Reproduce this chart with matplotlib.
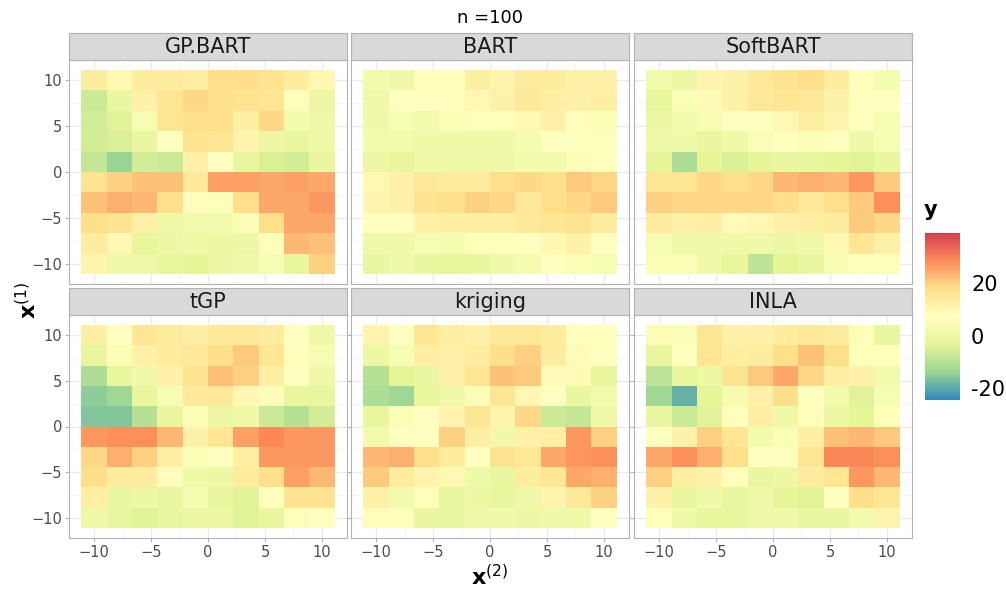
import numpy as np
import matplotlib
matplotlib.use("Agg")
import matplotlib.pyplot as plt
from matplotlib.colors import LinearSegmentedColormap, Normalize
from matplotlib.cm import ScalarMappable

# grid of tile centres (x^(2) across, x^(1) down); rows listed top (x1=10) to bottom (x1=-10)
x2 = np.linspace(-10, 10, 10)
x1 = np.linspace(10, -10, 10)
methods = ["GP.BART", "BART", "SoftBART", "tGP", "kriging", "INLA"]

gp_bart = [[14, 10, 14, 14, 13, 18, 18, 17, 14, 10],
           [-7, -1, 12, 16, 19, 18, 17, 16, 8, 0],
           [-6, -4, 4, 16, 18, 18, 13, 19, 2, 1],
           [-6, -5, -1, 7, 17, 16, 11, 0, -2, 1],
           [-8, -14, -6, -7, 12, 7, -2, -5, -6, -1],
           [17, 20, 22, 22, 15, 26, 26, 25, 26, 25],
           [22, 24, 23, 18, 8, 6, 18, 25, 25, 27],
           [18, 17, 12, 1, 2, 2, 5, 18, 25, 25],
           [14, 10, -2, 0, 1, 0, 0, 6, 23, 22],
           [11, 1, 1, -2, -3, 0, 1, 4, -2, 20]]
bart = [[2, 1, 8, 8, 13, 11, 14, 14, 12, 12],
        [1, 7, 7, 8, 10, 12, 15, 13, 12, 13],
        [1, 4, 2, 5, 6, 6, 10, 12, 8, 5],
        [2, 2, 1, 1, 1, 1, 3, 7, 7, 6],
        [0, -2, 1, 1, 1, 1, 2, 2, 5, 6],
        [10, 12, 15, 14, 14, 18, 19, 18, 21, 19],
        [11, 12, 17, 18, 20, 19, 15, 18, 19, 21],
        [7, 7, 12, 13, 13, 13, 15, 16, 17, 14],
        [1, 1, 4, 3, 6, 6, 7, 10, 12, 7],
        [-1, 1, -1, -2, -1, 1, 3, 7, 5, 4]]
softbart = [[2, 0, 11, 12, 15, 17, 18, 14, 7, 3],
            [-2, 5, 9, 12, 15, 16, 15, 12, 7, 7],
            [0, 2, 4, 7, 7, 10, 13, 11, 7, 4],
            [1, 1, -1, 1, 5, 7, 5, 7, 1, 4],
            [-3, -11, -3, -5, -3, -1, -1, -3, -4, -1],
            [16, 16, 19, 18, 19, 23, 24, 23, 27, 21],
            [20, 19, 19, 19, 19, 18, 15, 18, 21, 28],
            [14, 12, 13, 9, 10, 12, 13, 14, 21, 19],
            [4, 1, 1, 1, 1, 0, 1, 10, 16, 12],
            [5, 5, 1, -2, -9, -3, -1, 4, 6, 6]]
tgp = [[13, 7, 16, 14, 13, 15, 15, 14, 7, 1],
       [-2, 5, 12, 14, 15, 18, 21, 16, 8, 4],
       [-11, -2, 1, 12, 17, 22, 20, 13, 7, 1],
       [-15, -13, -2, 4, 15, 15, 10, 6, -2, -2],
       [-16, -16, -10, -2, 5, 0, 1, -7, -10, -6],
       [27, 28, 28, 23, 12, 16, 26, 29, 27, 27],
       [19, 24, 20, 13, 5, 7, 13, 27, 27, 27],
       [18, 14, 14, 8, 1, 0, 14, 18, 26, 23],
       [13, -1, 0, -1, 3, -2, -4, 8, 17, 17],
       [1, -2, -4, -1, 0, 0, -4, -1, 6, 7]]
kriging = [[11, 7, 16, 13, 12, 15, 15, 14, 7, 6],
           [0, 4, 13, 12, 14, 18, 20, 14, 9, 7],
           [-10, -3, -1, 12, 16, 22, 21, 9, 9, -2],
           [-11, -13, -2, 1, 5, 16, 10, 7, -1, 2],
           [-2, 5, 7, 11, 16, 11, 19, -7, -8, 1],
           [2, 7, 7, 20, 13, 1, 12, 13, 27, 20],
           [23, 24, 18, 14, 7, 17, 15, 25, 27, 28],
           [21, 14, 11, 10, 1, -1, 14, 16, 25, 24],
           [12, 2, 6, -1, 0, -2, 1, 11, 15, 20],
           [8, 6, -1, -1, 1, 1, 0, 1, 1, 7]]
inla = [[5, 5, 16, 12, 12, 14, 15, 14, 6, -1],
        [-1, 7, 16, 13, 14, 18, 22, 18, 6, 6],
        [-9, -2, 0, 17, 21, 25, 19, 13, 12, 2],
        [-13, -19, -3, 3, 12, 18, 7, 2, -4, 4],
        [-1, -7, -4, 8, 13, 1, 8, 0, -3, 6],
        [7, 12, 20, 16, 2, 5, 13, 22, 23, 21],
        [25, 28, 24, 18, 7, 7, 16, 29, 29, 28],
        [20, 13, 12, 8, -1, 0, 14, 16, 27, 23],
        [12, -2, 1, -1, 1, -3, -4, 7, 18, 16],
        [6, 1, -2, -1, 1, 1, -1, -1, 2, 11]]
panels = [gp_bart, bart, softbart, tgp, kriging, inla]

y_min, y_max = -24.6, 39.2
cmap = LinearSegmentedColormap.from_list(
    "spectral7", ["#3288BD", "#99D594", "#E6F598", "#FFFFBF", "#FEE08B", "#FC8D59", "#D53E4F"])
norm = Normalize(y_min, y_max)

W, H = 1006, 589
fig = plt.figure(figsize=(W / 100, H / 100), dpi=100)

def box(l, t, w, h):
    return [l / W, 1 - (t + h) / H, w / W, h / H]

lefts = [69, 351, 634]
pw = 278
rows = [(33, 60, 224), (288, 315, 223)]
dx = x2[1] - x2[0]
edges = np.append(x2 - dx / 2, x2[-1] + dx / 2)

for k, (name, z) in enumerate(zip(methods, panels)):
    r, c = divmod(k, 3)
    st, pt, ph = rows[r]
    ax = fig.add_axes(box(lefts[c], pt, pw, ph))
    ax.pcolormesh(edges, edges[::-1], np.array(z, float), cmap=cmap, norm=norm)
    ax.set_xlim(-12.2, 12.2); ax.set_ylim(-12.2, 12.2)
    ax.set_xticks([-10, -5, 0, 5, 10]); ax.set_yticks([-10, -5, 0, 5, 10])
    ax.set_xticks([-7.5, -2.5, 2.5, 7.5], minor=True)
    ax.set_yticks([-7.5, -2.5, 2.5, 7.5], minor=True)
    ax.grid(True, which="major", color="#EBEBEB", lw=0.9)
    ax.grid(True, which="minor", color="#F3F3F3", lw=0.5)
    ax.set_axisbelow(True)
    for s in ax.spines.values():
        s.set_color("#B3B3B3"); s.set_linewidth(0.8)
    ax.tick_params(which="both", length=0, labelsize=10.5, labelcolor="#4D4D4D",
                   color="#B3B3B3", pad=2)
    ax.tick_params(which="major", length=3)
    if r == 0:
        ax.tick_params(labelbottom=False, length=0)
    if c != 0:
        ax.tick_params(labelleft=False)
    if c == 0:
        ax.tick_params(axis="y", length=3)
    # strip
    sax = fig.add_axes(box(lefts[c], st, pw, pt - st))
    sax.set_facecolor("#D9D9D9")
    sax.set_xticks([]); sax.set_yticks([])
    for s in sax.spines.values():
        s.set_color("#B3B3B3"); s.set_linewidth(0.8)
    sax.text(0.5, 0.47, name, ha="center", va="center", fontsize=15, color="#1A1A1A",
             transform=sax.transAxes)

fig.text(490 / W, 1 - 18 / H, "n =100", ha="center", va="center", fontsize=13)
fig.text(490 / W, 1 - 585 / H, r"$\mathbf{x}^{(2)}$", ha="center", va="baseline", fontsize=16)
fig.text(28 / W, 1 - 300 / H, r"$\mathbf{x}^{(1)}$", ha="center", va="center", fontsize=16,
         rotation=90)

# legend
fig.text(924 / W, 1 - 210 / H, "y", ha="left", va="center", fontsize=15, fontweight="bold")
cax = fig.add_axes(box(925, 233, 35, 167))
cb = fig.colorbar(ScalarMappable(norm=norm, cmap=cmap), cax=cax, ticks=[-20, 0, 20])
cb.outline.set_visible(False)
cb.ax.tick_params(length=0, labelsize=15, pad=8)
cb.ax.set_yticklabels(["-20", "0", "20"])

fig.savefig("out.png", dpi=100, facecolor="white")
